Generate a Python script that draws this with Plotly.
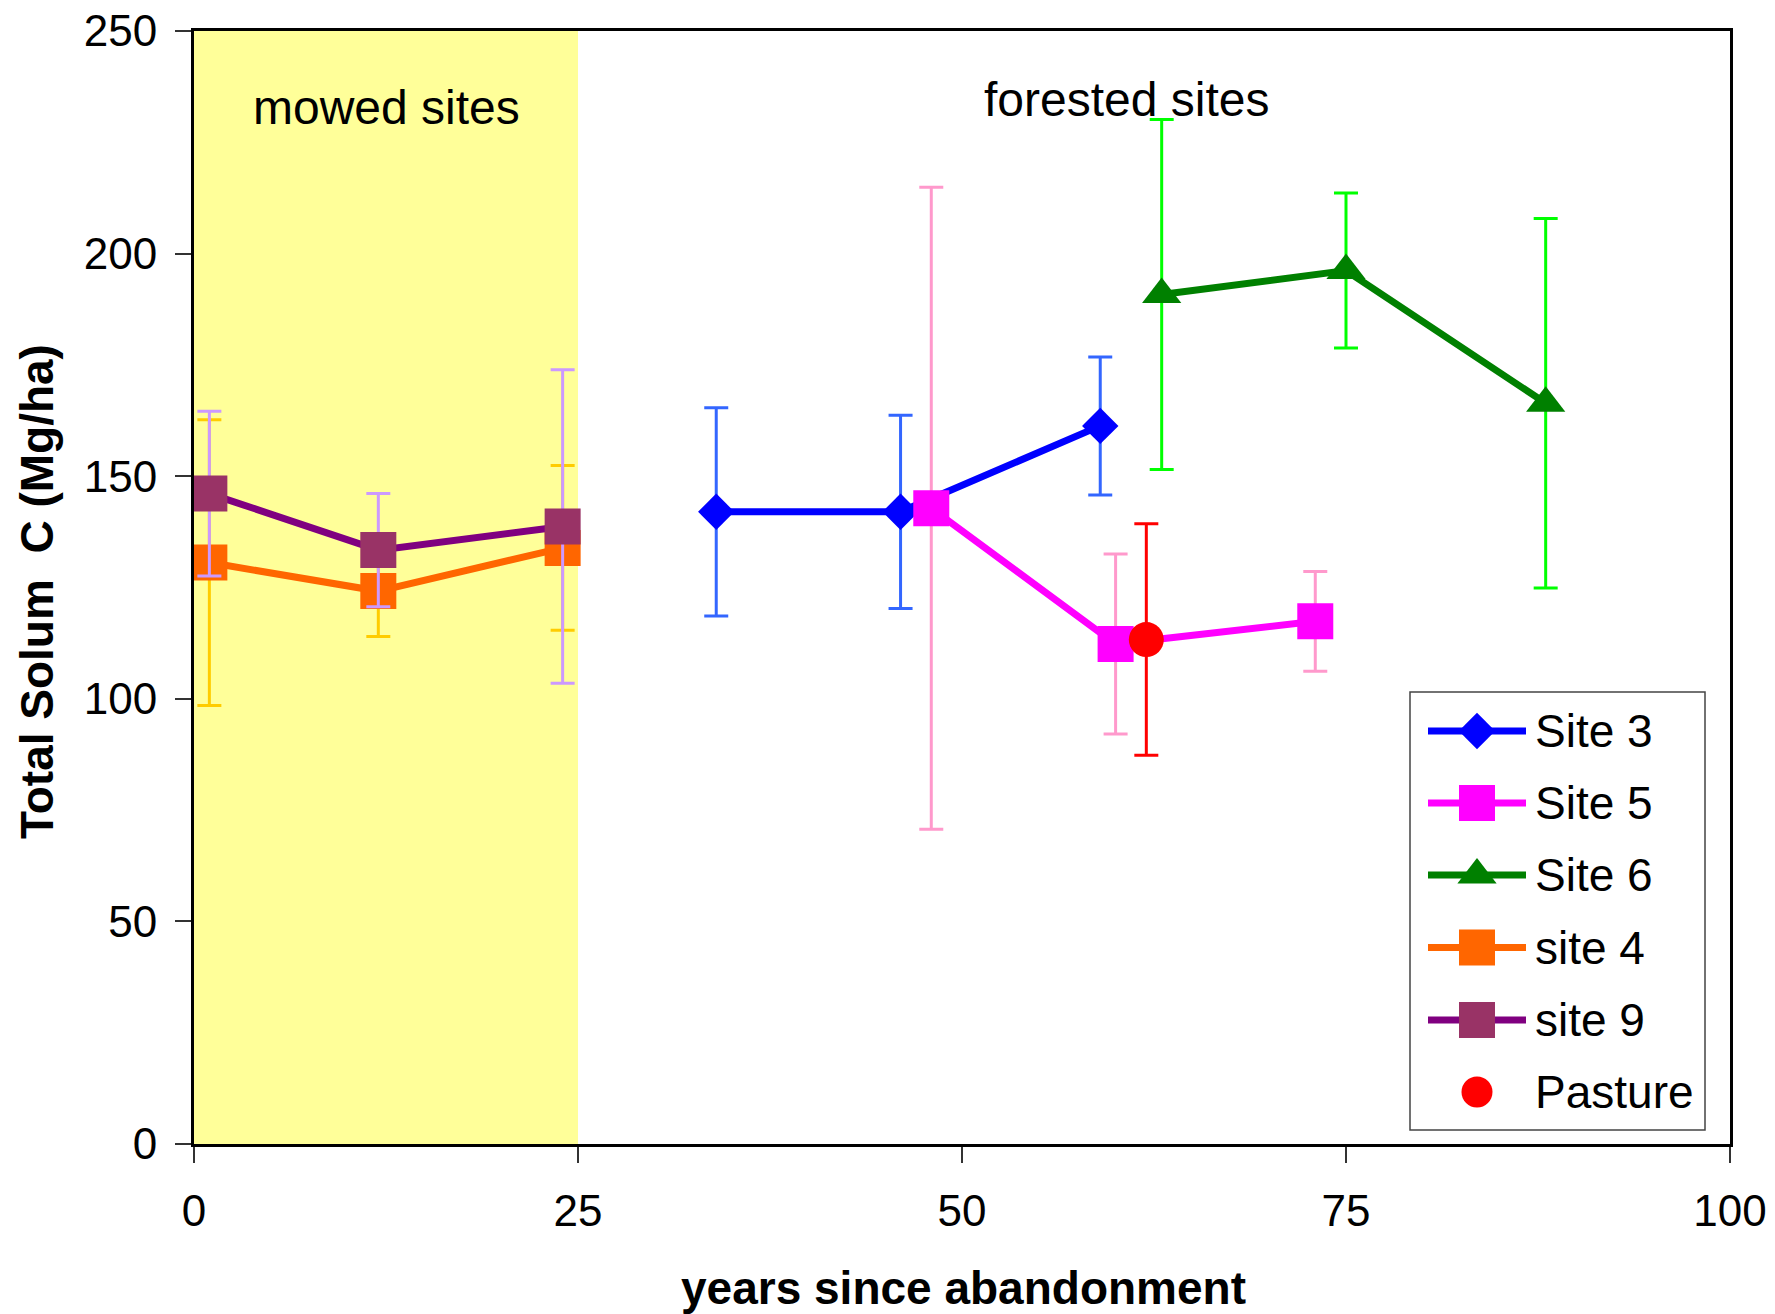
import plotly.graph_objects as go

# ---- data ----
site3_x = [34, 46, 59]
site3_y = [142, 142, 161.3]
site3_err = [23.4, 21.7, 15.5]

site5_x = [48, 60, 73]
site5_y = [142.8, 112.3, 117.4]
site5_err = [72.1, 20.2, 11.2]

site6_x = [63, 75, 88]
site6_y = [190.8, 196.2, 166.4]
site6_err = [39.3, 17.4, 41.5]

site4_x = [1, 12, 24]
site4_y = [130.6, 124.2, 133.9]
site4_err = [32.1, 10.2, 18.5]

site9_x = [1, 12, 24]
site9_y = [146.1, 133.4, 138.7]
site9_err = [18.5, 12.7, 35.2]

pasture_x = [62]
pasture_y = [113.3]
pasture_err = [26.0]

x_ticks = [0, 25, 50, 75, 100]
y_ticks = [0, 50, 100, 150, 200, 250]

FONT = "Liberation Sans, Arial, sans-serif"
W, H = 1775, 1314
ML, MR, MT, MB = 194, 45, 31, 170

fig = go.Figure()

series = [
    # name, xs, ys, errs, line colour, marker colour, error colour, symbol, size, has line
    ("Site 3", site3_x, site3_y, site3_err, "#0000FF", "#0000FF", "#3366FF", "diamond", 28, True),
    ("Site 5", site5_x, site5_y, site5_err, "#FF00FF", "#FF00FF", "#FF99CC", "square", 36, True),
    ("Site 6", site6_x, site6_y, site6_err, "#008000", "#008000", "#00FF00", "triangle-up", 34, True),
    ("site 4", site4_x, site4_y, site4_err, "#FF6600", "#FF6600", "#FFCC00", "square", 36, True),
    ("site 9", site9_x, site9_y, site9_err, "#800080", "#993366", "#CC99FF", "square", 36, True),
    ("Pasture", pasture_x, pasture_y, pasture_err, "#FF0000", "#FF0000", "#FF0000", "circle", 35, False),
]

for name, xs, ys, errs, lc, mc, ec, sym, sz, has_line in series:
    fig.add_trace(go.Scatter(
        x=xs, y=ys, name=name, mode="lines+markers" if has_line else "markers",
        showlegend=False,
        line=dict(color=lc, width=7),
        marker=dict(color=mc, symbol=sym, size=sz, opacity=1, line=dict(width=0)),
        error_y=dict(type="data", array=errs, visible=True, color=ec, thickness=3, width=12),
    ))

# ---- legend drawn on a pixel-unit overlay axis ----
leg_box = dict(x0=1410, x1=1705, y0=692, y1=1130)
leg_rows = [731, 803, 875, 947.5, 1020, 1092]
key_x = [1428, 1477, 1526]
text_x = 1533

fig.add_shape(type="rect", xref="x2", yref="y2", layer="below",
              fillcolor="white", line=dict(color="#444444", width=1.5), **leg_box)

for (name, xs, ys, errs, lc, mc, ec, sym, sz, has_line), yr in zip(series, leg_rows):
    if has_line:
        fig.add_trace(go.Scatter(
            x=key_x, y=[yr] * 3, xaxis="x2", yaxis="y2", mode="lines+markers",
            showlegend=False, hoverinfo="skip",
            line=dict(color=lc, width=7),
            marker=dict(color=mc, symbol=sym, size=[0, sz, 0], opacity=1, line=dict(width=0)),
        ))
    else:
        fig.add_trace(go.Scatter(
            x=[key_x[1]], y=[yr], xaxis="x2", yaxis="y2", mode="markers",
            showlegend=False, hoverinfo="skip",
            marker=dict(color=mc, symbol=sym, size=sz - 4, opacity=1, line=dict(width=0)),
        ))
    fig.add_annotation(x=text_x, y=yr, xref="x2", yref="y2", text=name, showarrow=False,
                       xanchor="left", yanchor="middle",
                       font=dict(family=FONT, size=46, color="black"))

fig.add_shape(type="rect", xref="x", yref="y", x0=0, x1=25, y0=0, y1=250,
              fillcolor="#FFFF99", line=dict(width=0), layer="below")

fig.add_annotation(x=12.5, y=232.9, xref="x", yref="y", text="mowed sites", showarrow=False,
                   font=dict(family=FONT, size=48, color="black"))
fig.add_annotation(x=60.7, y=234.6, xref="x", yref="y", text="forested sites", showarrow=False,
                   font=dict(family=FONT, size=48, color="black"))

# axis titles
fig.add_annotation(x=-0.1022, y=0.496, xref="paper", yref="paper", text="<b>Total Solum  C (Mg/ha)</b>",
                   textangle=-90, showarrow=False, xanchor="center", yanchor="middle",
                   font=dict(family=FONT, size=46, color="black"))
fig.add_annotation(x=0.5007, y=-0.1294, xref="paper", yref="paper", text="<b>years since abandonment</b>",
                   showarrow=False, xanchor="center", yanchor="middle",
                   font=dict(family=FONT, size=46, color="black"))

fig.update_layout(
    width=W, height=H,
    margin=dict(l=ML, r=MR, t=MT, b=MB),
    paper_bgcolor="white", plot_bgcolor="white",
    font=dict(family=FONT, size=44, color="black"),
    showlegend=False,
    xaxis=dict(range=[0, 100], tickvals=x_ticks, ticktext=[str(v) for v in x_ticks],
               showgrid=False, zeroline=False, showline=True, linecolor="black", linewidth=3,
               mirror=True, ticks="outside", ticklen=16, tickwidth=1.5, tickcolor="#333333",
               ticklabelstandoff=10, automargin=False),
    yaxis=dict(range=[0, 250], tickvals=y_ticks, ticktext=[str(v) for v in y_ticks],
               showgrid=False, zeroline=False, showline=True, linecolor="black", linewidth=3,
               mirror=True, ticks="outside", ticklen=16, tickwidth=1.5, tickcolor="#333333",
               ticklabelstandoff=9, automargin=False),
    xaxis2=dict(range=[ML, W - MR], overlaying="x", visible=False, fixedrange=True),
    yaxis2=dict(range=[H - MB, MT], overlaying="y", visible=False, fixedrange=True),
)

fig.write_html("out.html")
